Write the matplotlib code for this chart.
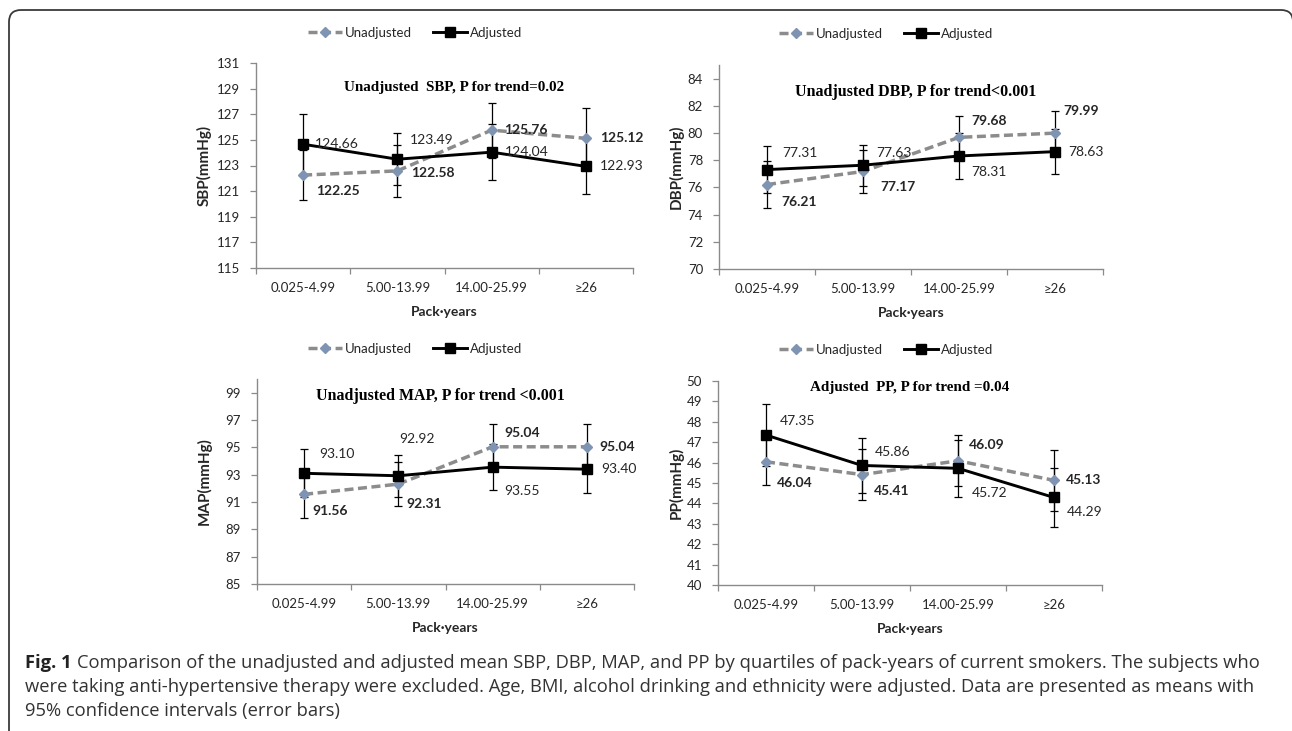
import matplotlib
matplotlib.use("Agg")
import matplotlib.pyplot as plt
from matplotlib.lines import Line2D
from matplotlib.patches import FancyBboxPatch

plt.rcParams['font.family'] = ['Lato', 'DejaVu Sans']

# Figure size in pixels.
W, H = 1292, 731

# Categories (quartiles of pack-years).
categories = ["0.025-4.99", "5.00-13.99", "14.00-25.99", "\u226526"]

# SBP
sbp_unadj = [122.25, 122.58, 125.76, 125.12]
sbp_unadj_ci = [1.95, 2.0, 2.15, 2.4]
sbp_adj = [124.66, 123.49, 124.04, 122.93]
sbp_adj_ci = [2.35, 2.05, 2.2, 2.15]

# DBP
dbp_unadj = [76.21, 77.17, 79.68, 79.99]
dbp_unadj_ci = [1.7, 1.6, 1.6, 1.64]
dbp_adj = [77.31, 77.63, 78.31, 78.63]
dbp_adj_ci = [1.73, 1.5, 1.7, 1.65]

# MAP
map_unadj = [91.56, 92.31, 95.04, 95.04]
map_unadj_ci = [1.76, 1.6, 1.7, 1.7]
map_adj = [93.10, 92.92, 93.55, 93.40]
map_adj_ci = [1.75, 1.55, 1.7, 1.72]

# PP
pp_unadj = [46.04, 45.41, 46.09, 45.13]
pp_unadj_ci = [1.12, 1.25, 1.25, 1.5]
pp_adj = [47.35, 45.86, 45.72, 44.29]
pp_adj_ci = [1.5, 1.37, 1.4, 1.45]

GRAY = "#8c8c8c"
DIAMOND = "#7f94b2"
SPINE = "#8a8a8a"
TXT = "#262626"


def px_rect(l, t, r, b):
    return [l / W, 1 - b / H, (r - l) / W, (b - t) / H]


def draw_panel(rect, unadj, unadj_ci, adj, adj_ci, ylim, yticks, ylabel,
               title, title_xy, title_size, label_off_u, label_off_a):
    ax = fig.add_axes(px_rect(*rect))
    x = [0.5, 1.5, 2.5, 3.5]

    # Error bars (95% CI).
    ax.errorbar(x, unadj, yerr=unadj_ci, fmt="none", ecolor="black",
                elinewidth=0.9, capsize=2.6, capthick=0.9, zorder=2)
    ax.errorbar(x, adj, yerr=adj_ci, fmt="none", ecolor="black",
                elinewidth=0.9, capsize=2.6, capthick=0.9, zorder=2)

    # Series.
    ax.plot(x, unadj, color=GRAY, lw=2.5, linestyle=(0, (2.6, 1.3)),
            marker="D", markersize=4.8, markerfacecolor=DIAMOND,
            markeredgecolor=DIAMOND, zorder=3)
    ax.plot(x, adj, color="black", lw=2.1, marker="s", markersize=7.5,
            zorder=4)

    # Data labels.
    for xi, v, (dx, dy) in zip(x, unadj, label_off_u):
        ax.annotate(f"{v:.2f}", (xi, v), xytext=(dx, dy),
                    textcoords="offset pixels", ha="left", va="center",
                    fontsize=10, fontweight="bold", color=TXT, zorder=5)
    for xi, v, (dx, dy) in zip(x, adj, label_off_a):
        ax.annotate(f"{v:.2f}", (xi, v), xytext=(dx, dy),
                    textcoords="offset pixels", ha="left", va="center",
                    fontsize=10, color=TXT, zorder=5)

    # Axes configuration.
    ax.set_xlim(0, 4)
    ax.set_ylim(*ylim)
    ax.set_yticks(yticks)
    ax.set_xticks([0, 1, 2, 3, 4])
    ax.set_xticklabels([])
    ax.set_xticks(x, minor=True)
    ax.set_xticklabels(categories, minor=True)
    ax.tick_params(axis="x", which="major", length=4.5, width=0.9,
                   color=SPINE, direction="out")
    ax.tick_params(axis="x", which="minor", length=0, pad=10,
                   labelsize=9.5, labelcolor=TXT)
    ax.tick_params(axis="y", length=4.5, width=0.9, color=SPINE, pad=7,
                   labelsize=9.5, labelcolor=TXT)
    for s in ["top", "right"]:
        ax.spines[s].set_visible(False)
    for s in ["left", "bottom"]:
        ax.spines[s].set_color(SPINE)
        ax.spines[s].set_linewidth(1.0)
    ax.patch.set_alpha(0)

    bg.text(title_xy[0], title_xy[1], title, ha="center", va="center",
            family="Liberation Serif", fontweight="bold", fontsize=title_size,
            color="black")
    bg.text(ylabel[1], (rect[1] + rect[3]) / 2, ylabel[0], rotation=90,
            ha="center", va="center", fontsize=11, fontweight="bold",
            color=TXT)
    bg.text((rect[0] + rect[2]) / 2, rect[3] + 44, "Pack\u00b7years",
            ha="center", va="center", fontsize=10, fontweight="bold",
            color=TXT)
    return ax


fig = plt.figure(figsize=(W / 100, H / 100), dpi=100)

# Background axes in pixel coordinates (border, caption, shared labels).
bg = fig.add_axes([0, 0, 1, 1])
bg.set_xlim(0, W)
bg.set_ylim(H, 0)
bg.axis("off")
bg.add_patch(FancyBboxPatch((9, 10), 1284, 740,
                            boxstyle="round,pad=0,rounding_size=12",
                            fill=False, edgecolor="#3a3a3a", lw=1.3))

draw_panel((256, 63, 633, 268), sbp_unadj, sbp_unadj_ci, sbp_adj, sbp_adj_ci,
           (115, 131), range(115, 132, 2), ("SBP(mmHg)", 204),
           "Unadjusted  SBP, P for trend=0.02", (454, 87), 10.8,
           [(13, -16), (14, -2), (12, 0), (14, 0)],
           [(12, 0), (12, 19), (13, 0), (14, 0)])
draw_panel((719, 65, 1103, 269), dbp_unadj, dbp_unadj_ci, dbp_adj, dbp_adj_ci,
           (70, 85), range(70, 85, 2), ("DBP(mmHg)", 676),
           "Unadjusted DBP, P for trend<0.001", (916, 92), 11.5,
           [(14, -17), (17, -16), (12, 16), (8, 22)],
           [(15, 17), (13, 12), (12, -16), (13, 0)])
draw_panel((257, 379, 634, 584), map_unadj, map_unadj_ci, map_adj, map_adj_ci,
           (85, 100), range(85, 100, 2), ("MAP(mmHg)", 204),
           "Unadjusted MAP, P for trend <0.001", (440, 396), 11.4,
           [(8, -17), (8, -20), (12, 14), (12, 0)],
           [(15, 19), (1, 37), (12, -24), (14, 0)])
draw_panel((718, 381, 1102, 585), pp_unadj, pp_unadj_ci, pp_adj, pp_adj_ci,
           (40, 50), range(40, 51, 1), ("PP(mmHg)", 676),
           "Adjusted  PP, P for trend =0.04", (910, 387), 10.9,
           [(11, -21), (12, -16), (11, 16), (12, 0)],
           [(14, 14), (13, 13), (14, -25), (13, -15)])

# Legends above each panel.
handles = [
    Line2D([], [], color=GRAY, lw=2.5, linestyle=(0, (2.6, 1.3)), marker="D",
           markersize=4.8, markerfacecolor=DIAMOND, markeredgecolor=DIAMOND),
    Line2D([], [], color="black", lw=2.1, marker="s", markersize=7.5),
]
labels = ["Unadjusted", "Adjusted"]
for cx, cy in [(415, 33), (886, 34), (415, 349), (886, 350)]:
    fig.legend(handles, labels, loc="center", bbox_to_anchor=(cx / W, 1 - cy / H),
               ncol=2, frameon=False, handlelength=2.6, handletextpad=0.2,
               columnspacing=1.6, prop={"size": 9.5}, labelcolor=TXT)

# Caption, sized so the first line spans the same width as the original.
cap_lines = [
    "Comparison of the unadjusted and adjusted mean SBP, DBP, MAP, and PP by "
    "quartiles of pack-years of current smokers. The subjects who",
    "were taking anti-hypertensive therapy were excluded. Age, BMI, alcohol "
    "drinking and ethnicity were adjusted. Data are presented as means with",
    "95% confidence intervals (error bars)",
]
cap_left, cap_right = 25, 1265
fig.canvas.draw()
renderer = fig.canvas.get_renderer()
size = 10.8
probe_a = bg.text(0, 0, "Fig. 1", family="Open Sans", fontweight="bold",
                  fontsize=size)
probe_b = bg.text(0, 0, cap_lines[0], family="Open Sans", fontsize=size)
span = (probe_a.get_window_extent(renderer).width + 5
        + probe_b.get_window_extent(renderer).width)
probe_a.remove()
probe_b.remove()
size = size * (cap_right - cap_left) / span

fig_lbl = bg.text(cap_left, 663, "Fig. 1", family="Open Sans",
                  fontweight="bold", fontsize=size, ha="left", va="center",
                  color="#222222")
bb = fig_lbl.get_window_extent(renderer=renderer)
bg.text(bb.x1 + 5, 663, cap_lines[0], family="Open Sans", fontsize=size,
        ha="left", va="center", color="#333333")
bg.text(cap_left, 687, cap_lines[1], family="Open Sans", fontsize=size,
        ha="left", va="center", color="#333333")
bg.text(cap_left, 711, cap_lines[2], family="Open Sans", fontsize=size,
        ha="left", va="center", color="#333333")

plt.savefig("out.png", dpi=100)
plt.close()
